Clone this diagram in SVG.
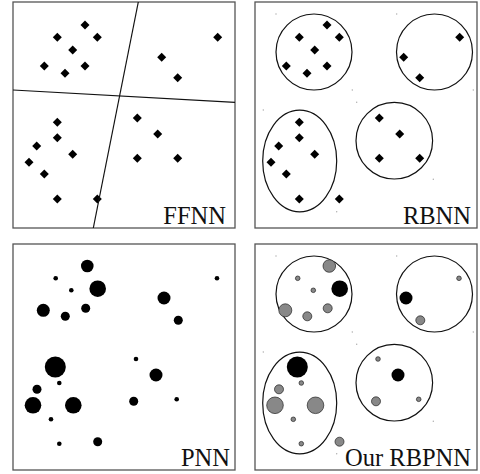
<svg xmlns="http://www.w3.org/2000/svg" xmlns:xlink="http://www.w3.org/1999/xlink" width="480" height="474" viewBox="0 0 480 474">
<style>
.frame{fill:#fff;stroke:#555;stroke-width:1.3}
.lbl{font-family:"Liberation Serif","Times New Roman",serif;font-size:24.5px;fill:#111;text-anchor:end}
.sep{stroke:#111;stroke-width:1.2;fill:none}
.clu{stroke:#111;stroke-width:1.2;fill:none}
.dia{fill:#000}
.blk{fill:#000}
.gry{fill:#888;stroke:#222;stroke-width:0.7}
.dot{fill:#aaa}
</style>
<defs>
<polygon id="d" points="0,-4.5 4.5,0 0,4.5 -4.5,0"/>
<g id="pts">
<use xlink:href="#d" x="85" y="25"/>
<use xlink:href="#d" x="57.3" y="37.3"/>
<use xlink:href="#d" x="97.3" y="37.3"/>
<use xlink:href="#d" x="72.7" y="50"/>
<use xlink:href="#d" x="44.3" y="66"/>
<use xlink:href="#d" x="65" y="73.3"/>
<use xlink:href="#d" x="85" y="66"/>
<use xlink:href="#d" x="217.7" y="37.3"/>
<use xlink:href="#d" x="161.7" y="57.3"/>
<use xlink:href="#d" x="177.7" y="77.7"/>
<use xlink:href="#d" x="57.3" y="122.3"/>
<use xlink:href="#d" x="57.3" y="137.7"/>
<use xlink:href="#d" x="36.7" y="146"/>
<use xlink:href="#d" x="72.7" y="154.3"/>
<use xlink:href="#d" x="29" y="162.3"/>
<use xlink:href="#d" x="44.3" y="174"/>
<use xlink:href="#d" x="57.3" y="199"/>
<use xlink:href="#d" x="97.3" y="199"/>
<use xlink:href="#d" x="137.3" y="118"/>
<use xlink:href="#d" x="157.7" y="134"/>
<use xlink:href="#d" x="137.3" y="158.3"/>
<use xlink:href="#d" x="177.7" y="158.3"/>
</g>
<g id="specks">
<circle cx="276" cy="14" r="0.7"/>
<circle cx="396.7" cy="14" r="0.7"/>
<circle cx="352.3" cy="90" r="0.7"/>
<circle cx="356.7" cy="102.3" r="0.7"/>
<circle cx="263.3" cy="110" r="0.7"/>
<circle cx="473.3" cy="90" r="0.7"/>
<circle cx="433.3" cy="179.3" r="0.7"/>
<circle cx="336.7" cy="211.7" r="0.7"/>
</g>
<g id="clusters">
<circle cx="314" cy="52" r="38"/>
<circle cx="434.5" cy="52" r="38"/>
<ellipse cx="299.7" cy="161" rx="37" ry="50.8"/>
<circle cx="394.3" cy="140.7" r="38.3"/>
</g>
</defs>

<g id="panel-ffnn">
<rect class="frame" x="13" y="2" width="222" height="226"/>
<g id="ffnn-points" class="dia"><use xlink:href="#pts"/></g>
<text class="lbl" x="226" y="223.5">FFNN</text>
</g>

<g id="panel-rbnn">
<rect class="frame" x="255" y="2" width="222" height="226"/>
<g class="dot"><use xlink:href="#specks"/></g>
<g id="rbnn-points" class="dia"><use xlink:href="#pts" transform="translate(242,0)"/></g>
<g id="rbnn-clusters" class="clu"><use xlink:href="#clusters"/></g>
<text class="lbl" x="471" y="223.5">RBNN</text>
</g>

<g id="panel-pnn">
<rect class="frame" x="13" y="244" width="222" height="226"/>
<g id="pnn-points" class="blk">
<circle cx="87.3" cy="266" r="6.3"/>
<circle cx="55.7" cy="278.3" r="2.3"/>
<circle cx="97.7" cy="288.7" r="8.3"/>
<circle cx="71.3" cy="290.3" r="2.3"/>
<circle cx="43.3" cy="310.3" r="6.5"/>
<circle cx="65.3" cy="316.3" r="4.5"/>
<circle cx="85.7" cy="308.3" r="4.5"/>
<circle cx="217" cy="278.3" r="2.3"/>
<circle cx="164" cy="298" r="6.5"/>
<circle cx="178.3" cy="320.3" r="4.5"/>
<circle cx="55.3" cy="367" r="10.5"/>
<circle cx="59.3" cy="383" r="2.3"/>
<circle cx="37" cy="389.3" r="4.5"/>
<circle cx="33" cy="405.3" r="8.3"/>
<circle cx="73.3" cy="405.3" r="8.3"/>
<circle cx="51" cy="419.3" r="2.3"/>
<circle cx="59.3" cy="443.7" r="2.3"/>
<circle cx="97.7" cy="441.7" r="4.5"/>
<circle cx="136" cy="359" r="2.3"/>
<circle cx="156" cy="375" r="6.5"/>
<circle cx="133.7" cy="401.3" r="4.5"/>
<circle cx="176.7" cy="399.3" r="2.3"/>
</g>
<text class="lbl" x="230" y="465.5">PNN</text>
</g>

<g id="panel-rbpnn">
<rect class="frame" x="255" y="244" width="222" height="226"/>
<g class="dot"><use xlink:href="#specks" transform="translate(0,242)"/></g>
<g id="rbpnn-clusters" class="clu"><use xlink:href="#clusters" transform="translate(0,242)"/></g>
<g id="rbpnn-points">
<circle class="gry" cx="329.3" cy="266" r="6.3"/>
<circle class="gry" cx="297.7" cy="278.3" r="2.3"/>
<circle class="blk" cx="339.7" cy="288.7" r="8.3"/>
<circle class="gry" cx="313.3" cy="290.3" r="2.3"/>
<circle class="gry" cx="285.3" cy="310.3" r="6.5"/>
<circle class="gry" cx="307.3" cy="316.3" r="4.5"/>
<circle class="gry" cx="327.7" cy="308.3" r="4.5"/>
<circle class="gry" cx="459" cy="278.3" r="2.3"/>
<circle class="blk" cx="406" cy="298" r="6.5"/>
<circle class="gry" cx="420.3" cy="320.3" r="4.5"/>
<circle class="blk" cx="297.3" cy="367" r="10.5"/>
<circle class="gry" cx="301.3" cy="383" r="2.3"/>
<circle class="gry" cx="279" cy="389.3" r="4.5"/>
<circle class="gry" cx="275" cy="405.3" r="8.3"/>
<circle class="gry" cx="315.5" cy="405.3" r="8.3"/>
<circle class="gry" cx="293.3" cy="419.3" r="2.3"/>
<circle class="gry" cx="301.3" cy="443.7" r="2.3"/>
<circle class="gry" cx="339.5" cy="441.7" r="4.5"/>
<circle class="gry" cx="378" cy="359" r="2.3"/>
<circle class="blk" cx="398" cy="375" r="6.5"/>
<circle class="gry" cx="376" cy="401.3" r="4.5"/>
<circle class="gry" cx="418.7" cy="399.3" r="2.3"/>
</g>
<text class="lbl" x="471" y="465.5">Our RBPNN</text>
</g>

<g id="connectors">
<line class="sep" x1="138.3" y1="2" x2="93.3" y2="228"/>
<line class="sep" x1="13" y1="90" x2="235" y2="102.3"/>
</g>
</svg>
